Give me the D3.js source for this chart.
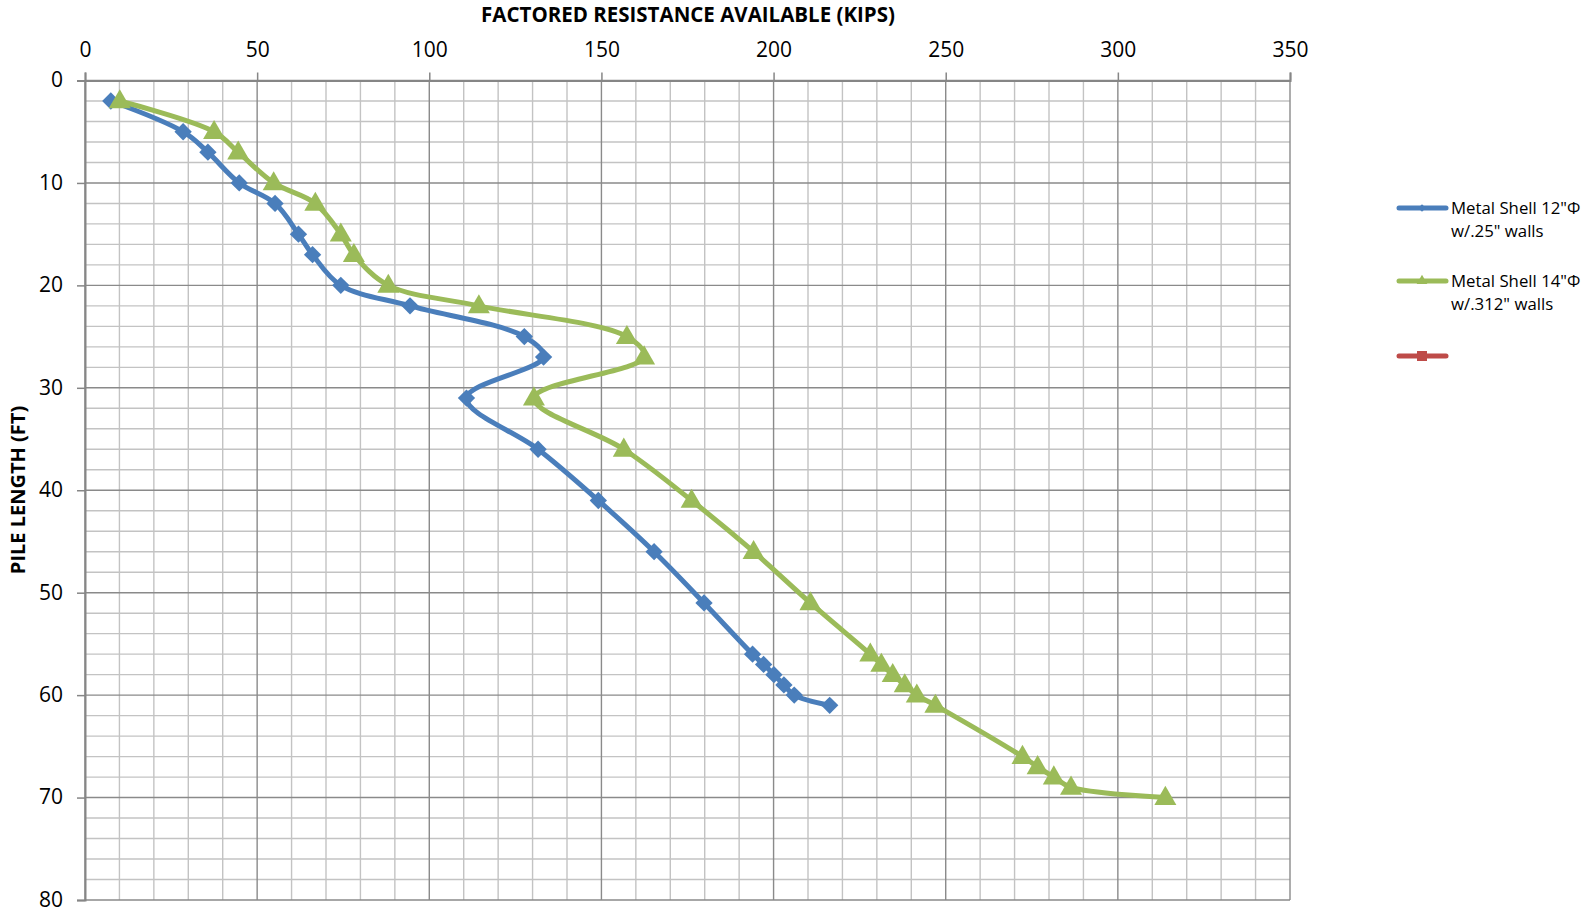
<!DOCTYPE html>
<html>
<head>
<meta charset="utf-8">
<script src="https://cdn.jsdelivr.net/npm/d3@7"></script>
<style>
body { margin: 0; background: #fff; }
text { font-family: "Open Sans", sans-serif; fill: #000; }
</style>
</head>
<body>
<script>
var w = 1590;
var h = 910;

// pile length (ft)
var depth12 = [2, 5, 7, 10, 12, 15, 17, 20, 22, 25, 27, 31, 36, 41, 46, 51, 56, 57, 58, 59, 60, 61];
var kips12 = [7.5, 28.5, 35.7, 44.8, 55.2, 62, 66.1, 74.3, 94.4, 127.6, 133.2, 110.8, 131.6, 149.1, 165.3, 179.8, 193.9, 197.1, 200.1, 203, 206, 216.3];

var depth14 = [2, 5, 7, 10, 12, 15, 17, 20, 22, 25, 27, 31, 36, 41, 46, 51, 56, 57, 58, 59, 60, 61, 66, 67, 68, 69, 70];
var kips14 = [10.1, 37.5, 44.5, 54.8, 66.9, 74.3, 78.1, 88.1, 114.4, 157.4, 162.4, 130.4, 156.5, 176.2, 194.2, 210.7, 228.1, 231.3, 234.6, 238.1, 241.6, 247, 272.3, 276.7, 281.4, 286.4, 313.8];

var xTicks = [0, 50, 100, 150, 200, 250, 300, 350];
var yTicks = [0, 10, 20, 30, 40, 50, 60, 70, 80];

var seriesNames = ["Metal Shell 12\"\u03A6|w/.25\" walls", "Metal Shell 14\"\u03A6|w/.312\" walls", ""];
var seriesColors = ["#4a7ebb", "#9bbb59", "#be4b48"];

var svg = d3.select("body").append("svg")
    .attr("width", w)
    .attr("height", h);

var x = d3.scaleLinear().domain([0, 350]).range([85, 1290]);
var y = d3.scaleLinear().domain([0, 80]).range([80.5, 900]);

// minor grid
svg.append("g").selectAll("line")
    .data(d3.range(0, 351, 10).filter(function(d){ return d % 50 != 0; }))
    .enter().append("line")
    .attr("x1", function(d){ return x(d); })
    .attr("x2", function(d){ return x(d); })
    .attr("y1", y(0)).attr("y2", y(80))
    .attr("stroke", "#c3c3c3").attr("stroke-width", 1.4);
svg.append("g").selectAll("line")
    .data(d3.range(0, 81, 2).filter(function(d){ return d % 10 != 0; }))
    .enter().append("line")
    .attr("y1", function(d){ return y(d); })
    .attr("y2", function(d){ return y(d); })
    .attr("x1", x(0)).attr("x2", x(350))
    .attr("stroke", "#c3c3c3").attr("stroke-width", 1.4);

// major grid
svg.append("g").selectAll("line")
    .data(xTicks)
    .enter().append("line")
    .attr("x1", function(d){ return x(d); })
    .attr("x2", function(d){ return x(d); })
    .attr("y1", y(0)).attr("y2", y(80))
    .attr("stroke", "#8a8a8a").attr("stroke-width", 1.4);
svg.append("g").selectAll("line")
    .data(yTicks)
    .enter().append("line")
    .attr("y1", function(d){ return y(d); })
    .attr("y2", function(d){ return y(d); })
    .attr("x1", x(0)).attr("x2", x(350))
    .attr("stroke", "#8a8a8a").attr("stroke-width", 1.4);

// axes
var xAxis = d3.axisTop(x).tickValues(xTicks).tickSize(8).tickPadding(16);
var gx = svg.append("g").attr("transform", "translate(0," + y(0) + ")").call(xAxis);
var yAxis = d3.axisLeft(y).tickValues(yTicks).tickSize(8).tickPadding(14);
var gy = svg.append("g").attr("transform", "translate(" + x(0) + ",0)").call(yAxis);
[gx, gy].forEach(function(g){
    g.select(".domain").attr("stroke", "#868686").attr("stroke-width", 2);
    g.selectAll(".tick line").attr("stroke", "#868686").attr("stroke-width", 1.5);
    g.selectAll(".tick text").style("font-size", "21px").attr("fill", "#000");
});
gx.selectAll(".tick text").attr("dy", "0em");
gy.selectAll(".tick text").attr("dy", "0.3em");

// titles
svg.append("text")
    .attr("x", 688).attr("y", 22)
    .attr("text-anchor", "middle")
    .style("font-size", "20.5px").style("font-weight", "bold")
    .text("FACTORED RESISTANCE AVAILABLE (KIPS)");
svg.append("text")
    .attr("transform", "translate(25,490) rotate(-90)")
    .attr("text-anchor", "middle")
    .style("font-size", "20px").style("font-weight", "bold")
    .text("PILE LENGTH (FT)");

// series
var line = d3.line()
    .x(function(d){ return x(d[0]); })
    .y(function(d){ return y(d[1]); })
    .curve(d3.curveCatmullRom.alpha(0.5));

var pts12 = kips12.map(function(k, i){ return [k, depth12[i]]; });
var pts14 = kips14.map(function(k, i){ return [k, depth14[i]]; });

var diamond = d3.symbol().type(d3.symbolSquare).size(150);
var triangle = d3.symbol().type(d3.symbolTriangle).size(210);
var square = d3.symbol().type(d3.symbolSquare).size(100);

svg.append("path").datum(pts12)
    .attr("d", line)
    .attr("fill", "none")
    .attr("stroke", seriesColors[0])
    .attr("stroke-width", 5);
svg.append("path").datum(pts14)
    .attr("d", line)
    .attr("fill", "none")
    .attr("stroke", seriesColors[1])
    .attr("stroke-width", 5);

svg.append("g").selectAll("path")
    .data(pts12)
    .enter().append("path")
    .attr("d", diamond)
    .attr("transform", function(d){ return "translate(" + x(d[0]) + "," + y(d[1]) + ") rotate(45)"; })
    .attr("fill", seriesColors[0]);
svg.append("g").selectAll("path")
    .data(pts14)
    .enter().append("path")
    .attr("d", triangle)
    .attr("transform", function(d){ return "translate(" + x(d[0]) + "," + (y(d[1]) + 1) + ")"; })
    .attr("fill", seriesColors[1]);

// legend
var legendY = [208, 281, 356];
var markers = [d3.symbol().type(d3.symbolSquare).size(30), d3.symbol().type(d3.symbolTriangle).size(50), square];
var leg = svg.append("g").selectAll("g")
    .data(seriesNames)
    .enter().append("g")
    .attr("transform", function(d, i){ return "translate(0," + legendY[i] + ")"; });
leg.append("line")
    .attr("x1", 1399).attr("x2", 1446)
    .attr("stroke", function(d, i){ return seriesColors[i]; })
    .attr("stroke-width", 5)
    .attr("stroke-linecap", "round");
leg.append("path")
    .attr("d", function(d, i){ return markers[i](); })
    .attr("transform", function(d, i){ return "translate(1422,0)" + (i == 0 ? " rotate(45)" : ""); })
    .attr("fill", function(d, i){ return seriesColors[i]; });
leg.each(function(d){
    var parts = d.split("|");
    var t = d3.select(this).append("text")
        .attr("x", 1451).attr("y", 6)
        .style("font-size", "16.8px");
    parts.forEach(function(p, j){
        if (p == "") return;
        t.append("tspan").attr("x", 1451).attr("dy", j == 0 ? 0 : 23).text(p);
    });
});
</script>
</body>
</html>
